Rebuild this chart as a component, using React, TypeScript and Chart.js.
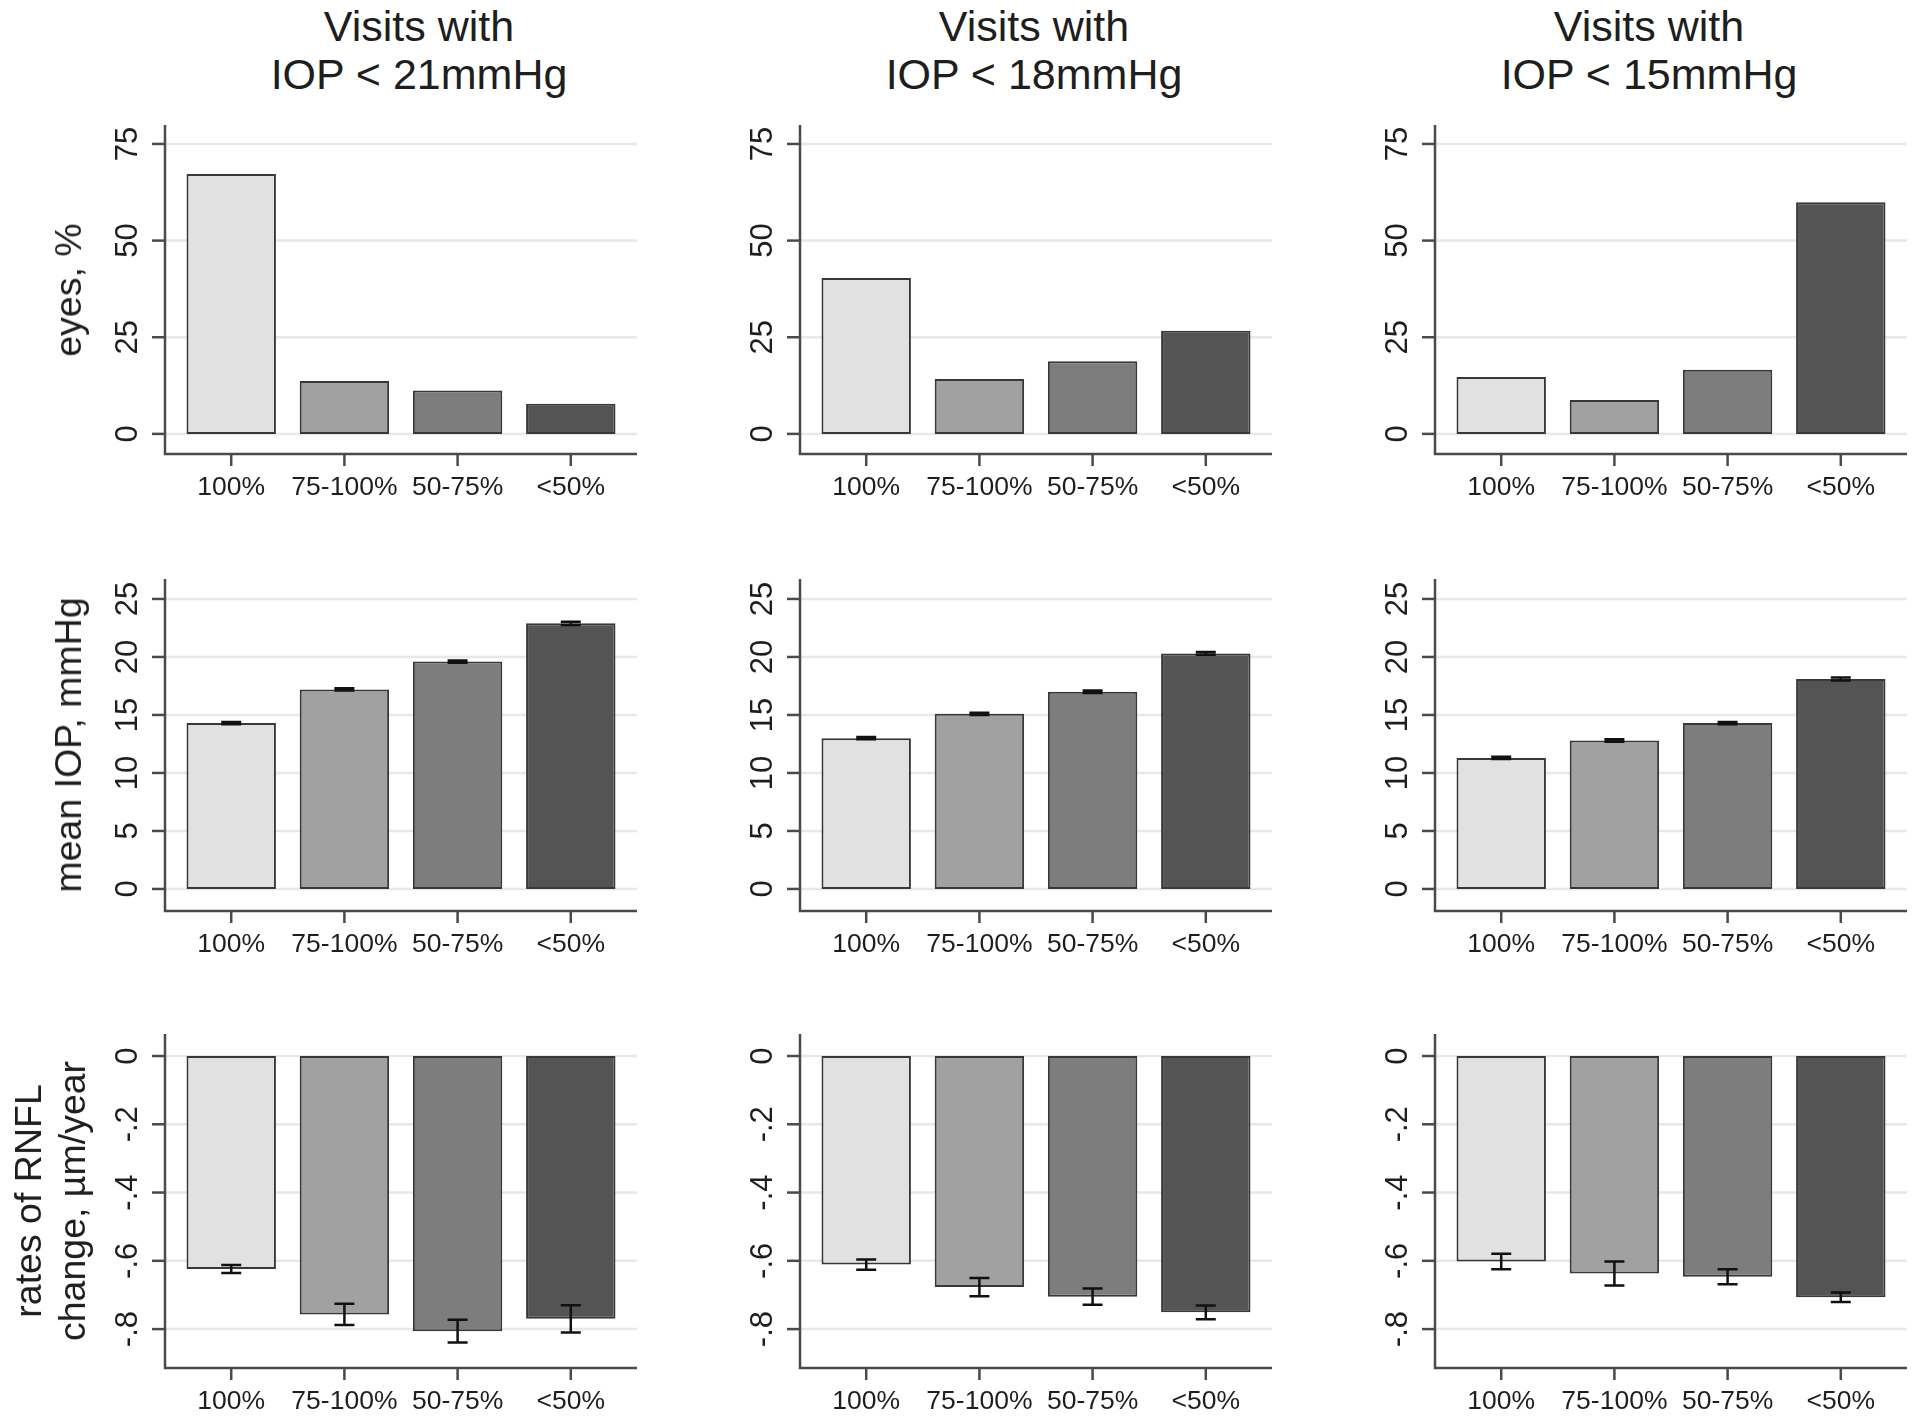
import React, { useEffect, useRef } from 'react';
import { Chart, registerables } from 'chart.js';

Chart.register(...registerables);

// ---------------- data ----------------
const categories = ['100%', '75-100%', '50-75%', '<50%'];
const categoryPositions = [0, 1, 2, 3];
const columnTitles = [
  ['Visits with', 'IOP < 21mmHg'],
  ['Visits with', 'IOP < 18mmHg'],
  ['Visits with', 'IOP < 15mmHg'],
];
const rowTitles = [['eyes, %'], ['mean IOP, mmHg'], ['rates of RNFL', 'change, µm/year']];

// row 1: share of eyes (%)
const eyes21 = [67.2, 13.7, 11.2, 7.8];
const eyes18 = [40.3, 14.2, 18.8, 26.7];
const eyes15 = [14.7, 8.8, 16.6, 59.9];

// row 2: mean IOP (mmHg) and error half-widths
const iop21 = [14.3, 17.2, 19.6, 22.9];
const iop18 = [13.0, 15.1, 17.0, 20.3];
const iop15 = [11.3, 12.8, 14.3, 18.1];
const iopErr21 = [0.1, 0.1, 0.1, 0.14];
const iopErr18 = [0.1, 0.1, 0.1, 0.12];
const iopErr15 = [0.1, 0.1, 0.1, 0.12];

// row 3: rates of RNFL change (µm/year) and error half-widths
const rnfl21 = [-0.624, -0.757, -0.806, -0.77];
const rnfl18 = [-0.611, -0.677, -0.705, -0.751];
const rnfl15 = [-0.602, -0.637, -0.647, -0.707];
const rnflErr21 = [0.012, 0.031, 0.033, 0.04];
const rnflErr18 = [0.015, 0.027, 0.024, 0.02];
const rnflErr15 = [0.023, 0.035, 0.022, 0.014];

// axis ticks
const eyesTicks = [0, 25, 50, 75];
const eyesTickLabels = ['0', '25', '50', '75'];
const iopTicks = [0, 5, 10, 15, 20, 25];
const iopTickLabels = ['0', '5', '10', '15', '20', '25'];
const rnflTicks = [0, -0.2, -0.4, -0.6, -0.8];
const rnflTickLabels = ['0', '-.2', '-.4', '-.6', '-.8'];

// axis ranges
const eyesRange = [-5.2, 79.9];
const iopRange = [-1.9, 26.72];
const rnflRange = [-0.914, 0.0645];

// ---------------- styling / layout ----------------
const FONT = '"Liberation Sans", Arial, Helvetica, sans-serif';
const BAR_COLORS = ['#e1e1e1', '#a1a1a1', '#7d7d7d', '#545454'];
const BAR_BORDER = '#383838';
const TEXT = '#1e1e1e';
const AXIS = '#4a4a4a';
const GRID = '#e8e8e8';

const COL_X = [165, 800, 1435];
const PLOT_W = 472;
const ROW_TOP = [125, 579, 1034];
const ROW_BOTTOM = [454, 911, 1368];
const TITLE_CX = [419, 1034, 1649];
const PAD_L = 150;
const PAD_R = 10;
const PAD_T = 20;
const PAD_B = 50;
const Y_FONT = 31;
const X_FONT = 26.5;

type Spec = {
  values: number[];
  err: number[] | null;
  ticks: number[];
  tickLabels: string[];
  range: number[];
};

const grid: Spec[][] = [
  [
    { values: eyes21, err: null, ticks: eyesTicks, tickLabels: eyesTickLabels, range: eyesRange },
    { values: eyes18, err: null, ticks: eyesTicks, tickLabels: eyesTickLabels, range: eyesRange },
    { values: eyes15, err: null, ticks: eyesTicks, tickLabels: eyesTickLabels, range: eyesRange },
  ],
  [
    { values: iop21, err: iopErr21, ticks: iopTicks, tickLabels: iopTickLabels, range: iopRange },
    { values: iop18, err: iopErr18, ticks: iopTicks, tickLabels: iopTickLabels, range: iopRange },
    { values: iop15, err: iopErr15, ticks: iopTicks, tickLabels: iopTickLabels, range: iopRange },
  ],
  [
    { values: rnfl21, err: rnflErr21, ticks: rnflTicks, tickLabels: rnflTickLabels, range: rnflRange },
    { values: rnfl18, err: rnflErr18, ticks: rnflTicks, tickLabels: rnflTickLabels, range: rnflRange },
    { values: rnfl15, err: rnflErr15, ticks: rnflTicks, tickLabels: rnflTickLabels, range: rnflRange },
  ],
];

function makeStataPlugin(spec: Spec) {
  return {
    id: 'stataAxes',
    beforeDatasetsDraw(chart: any) {
      const { ctx, chartArea: a, scales } = chart;
      const y = scales.y;
      ctx.save();
      ctx.strokeStyle = GRID;
      ctx.lineWidth = 2.5;
      for (const t of spec.ticks) {
        const py = y.getPixelForValue(t);
        ctx.beginPath();
        ctx.moveTo(a.left, py);
        ctx.lineTo(a.right, py);
        ctx.stroke();
      }
      ctx.restore();
    },
    afterDatasetsDraw(chart: any) {
      const { ctx, chartArea: a, scales } = chart;
      const x = scales.x;
      const y = scales.y;
      ctx.save();
      // error bars
      if (spec.err) {
        ctx.strokeStyle = '#111111';
        ctx.lineWidth = 2.5;
        spec.values.forEach((v, i) => {
          const e = spec.err![i];
          const px = x.getPixelForValue(categoryPositions[i]);
          const y1 = y.getPixelForValue(v + e);
          const y2 = y.getPixelForValue(v - e);
          ctx.beginPath();
          ctx.moveTo(px, y1);
          ctx.lineTo(px, y2);
          ctx.moveTo(px - 10, y1);
          ctx.lineTo(px + 10, y1);
          ctx.moveTo(px - 10, y2);
          ctx.lineTo(px + 10, y2);
          ctx.stroke();
        });
      }
      // axis lines
      ctx.strokeStyle = AXIS;
      ctx.lineWidth = 2.5;
      ctx.beginPath();
      ctx.moveTo(a.left, a.top);
      ctx.lineTo(a.left, a.bottom);
      ctx.lineTo(a.right, a.bottom);
      ctx.stroke();
      // y ticks
      ctx.fillStyle = TEXT;
      ctx.font = `${Y_FONT}px ${FONT}`;
      ctx.textAlign = 'center';
      ctx.textBaseline = 'alphabetic';
      spec.ticks.forEach((t, i) => {
        const py = y.getPixelForValue(t);
        ctx.beginPath();
        ctx.moveTo(a.left - 13, py);
        ctx.lineTo(a.left, py);
        ctx.stroke();
        ctx.save();
        ctx.translate(a.left - 39, py);
        ctx.rotate(-Math.PI / 2);
        ctx.fillText(spec.tickLabels[i], 0, Y_FONT * 0.36);
        ctx.restore();
      });
      // x ticks
      ctx.font = `${X_FONT}px ${FONT}`;
      categories.forEach((c, i) => {
        const px = x.getPixelForValue(categoryPositions[i]);
        ctx.beginPath();
        ctx.moveTo(px, a.bottom);
        ctx.lineTo(px, a.bottom + 12);
        ctx.stroke();
        ctx.fillText(c, px, a.bottom + 31 + X_FONT * 0.36);
      });
      ctx.restore();
    },
  };
}

function Panel({ spec, row, col }: { spec: Spec; row: number; col: number }) {
  const ref = useRef<HTMLCanvasElement>(null);
  const w = PAD_L + PLOT_W + PAD_R;
  const h = PAD_T + (ROW_BOTTOM[row] - ROW_TOP[row]) + PAD_B;
  useEffect(() => {
    const chart = new Chart(ref.current as HTMLCanvasElement, {
      type: 'bar',
      data: {
        datasets: [
          {
            data: spec.values.map((v, i) => ({ x: categoryPositions[i], y: v })),
            backgroundColor: BAR_COLORS,
            borderColor: BAR_BORDER,
            borderWidth: 2,
            borderSkipped: false,
            categoryPercentage: 1,
            barPercentage: 0.79,
          } as any,
        ],
      },
      options: {
        responsive: false,
        maintainAspectRatio: false,
        animation: false,
        devicePixelRatio: 1,
        layout: { padding: { left: PAD_L, right: PAD_R, top: PAD_T, bottom: PAD_B } },
        plugins: {
          legend: { display: false },
          tooltip: { enabled: false },
          title: { display: false },
        },
        scales: {
          x: {
            type: 'linear',
            display: false,
            offset: false,
            min: -0.585,
            max: 3.585,
            afterBuildTicks: (scale: any) => {
              scale.ticks = categoryPositions.map((v) => ({ value: v }));
            },
          },
          y: { type: 'linear', display: false, min: spec.range[0], max: spec.range[1] },
        },
      } as any,
      plugins: [makeStataPlugin(spec)],
    });
    return () => chart.destroy();
  }, []);
  return (
    <canvas
      ref={ref}
      width={w}
      height={h}
      style={{
        position: 'absolute',
        left: COL_X[col] - PAD_L,
        top: ROW_TOP[row] - PAD_T,
        width: w,
        height: h,
        display: 'block',
      }}
    />
  );
}

export default function App() {
  return (
    <div
      style={{
        position: 'absolute',
        left: 0,
        top: 0,
        width: 1920,
        height: 1420,
        overflow: 'hidden',
        background: '#ffffff',
        fontFamily: FONT,
        color: TEXT,
      }}
    >
      {grid.map((row, r) =>
        row.map((spec, c) => <Panel key={`${r}-${c}`} spec={spec} row={r} col={c} />)
      )}
      {columnTitles.map((lines, c) => (
        <div
          key={`t${c}`}
          style={{
            position: 'absolute',
            left: TITLE_CX[c],
            top: 2,
            transform: 'translateX(-50%)',
            fontSize: 43,
            lineHeight: '48px',
            textAlign: 'center',
            whiteSpace: 'nowrap',
          }}
        >
          {lines.map((l, i) => (
            <div key={i}>{l}</div>
          ))}
        </div>
      ))}
      {rowTitles.map((lines, r) => (
        <div
          key={`r${r}`}
          style={{
            position: 'absolute',
            left: lines.length > 1 ? 50 : 68,
            top: (ROW_TOP[r] + ROW_BOTTOM[r]) / 2,
            transform: 'translate(-50%, -50%) rotate(-90deg)',
            fontSize: 37.5,
            lineHeight: '44px',
            textAlign: 'center',
            whiteSpace: 'nowrap',
          }}
        >
          {lines.map((l, i) => (
            <div key={i}>{l}</div>
          ))}
        </div>
      ))}
    </div>
  );
}
